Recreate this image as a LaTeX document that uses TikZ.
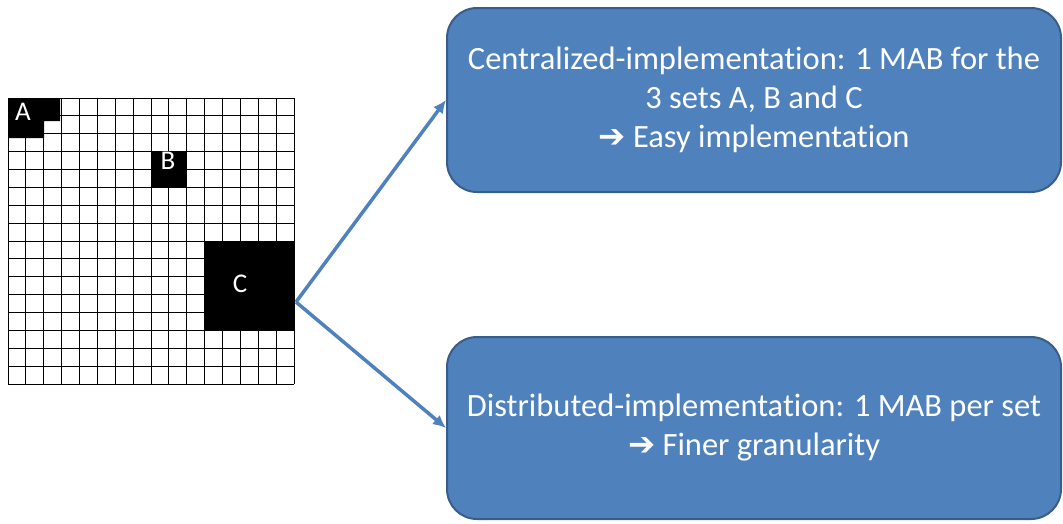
\documentclass[tikz,border=0pt]{standalone}
\usepackage{fontspec}
\setmainfont{Carlito}[Ligatures={NoCommon,NoRare,NoContextual},RawFeature={-liga;-clig;-dlig;-calt}]
\newfontfamily\symfont{DejaVu Sans}
\usetikzlibrary{arrows.meta}
\definecolor{boxblue}{HTML}{4F81BD}
\definecolor{boxedge}{HTML}{385D8A}
\tikzset{
  setlabel/.style={text=white,font=\fontsize{27}{30}\selectfont},
  implbox/.style={rectangle,rounded corners=30pt,fill=boxblue,draw=boxedge,line width=2pt,
    text=white,align=center,minimum width=614pt,font=\fontsize{32.5}{39}\selectfont},
  link/.style={draw=boxblue,line width=3.5pt,-{Latex[length=13pt,width=12pt]}}
}
\begin{document}
\begin{tikzpicture}
    [x=1pt,y=-1pt]
    \useasboundingbox (0,0) rectangle (1063,523);
    %grid
    \foreach \i in {0,...,16}{
      \draw[line width=1pt] ({8+17.875*\i},98)--({8+17.875*\i},384);
      \draw[line width=1pt] (8,{98+17.875*\i})--(294,{98+17.875*\i});
    }
    %sets
    \fill (8,98)--(60,98)--(60,121)--(44,121)--(44,138)--(8,138)--cycle;
    \fill (151.2,151.7) rectangle (186.9,187.5);
    \fill (204.9,241.2) rectangle (294,330.7);
    \node[setlabel] (setA) at (23,112) {A};
    \node[setlabel] (setB) at (168,161) {B};
    \node[setlabel] (setC) at (240,284) {C};
    %boxes
    \node[implbox,minimum height=184pt] (central) at (754,100)
      {Centralized-implementation: 1 MAB for the\\3 sets A, B and C\\{\symfont ➔} Easy implementation};
    \node[implbox,minimum height=182pt] (distrib) at (754,428)
      {Distributed-implementation: 1 MAB per set\\{\symfont ➔} Finer granularity};
    %arrows
    \coordinate (src) at (296,302);
    \draw[link] (src)--(central.west);
    \draw[link] (src)--(distrib.west);
\end{tikzpicture}
\end{document}
